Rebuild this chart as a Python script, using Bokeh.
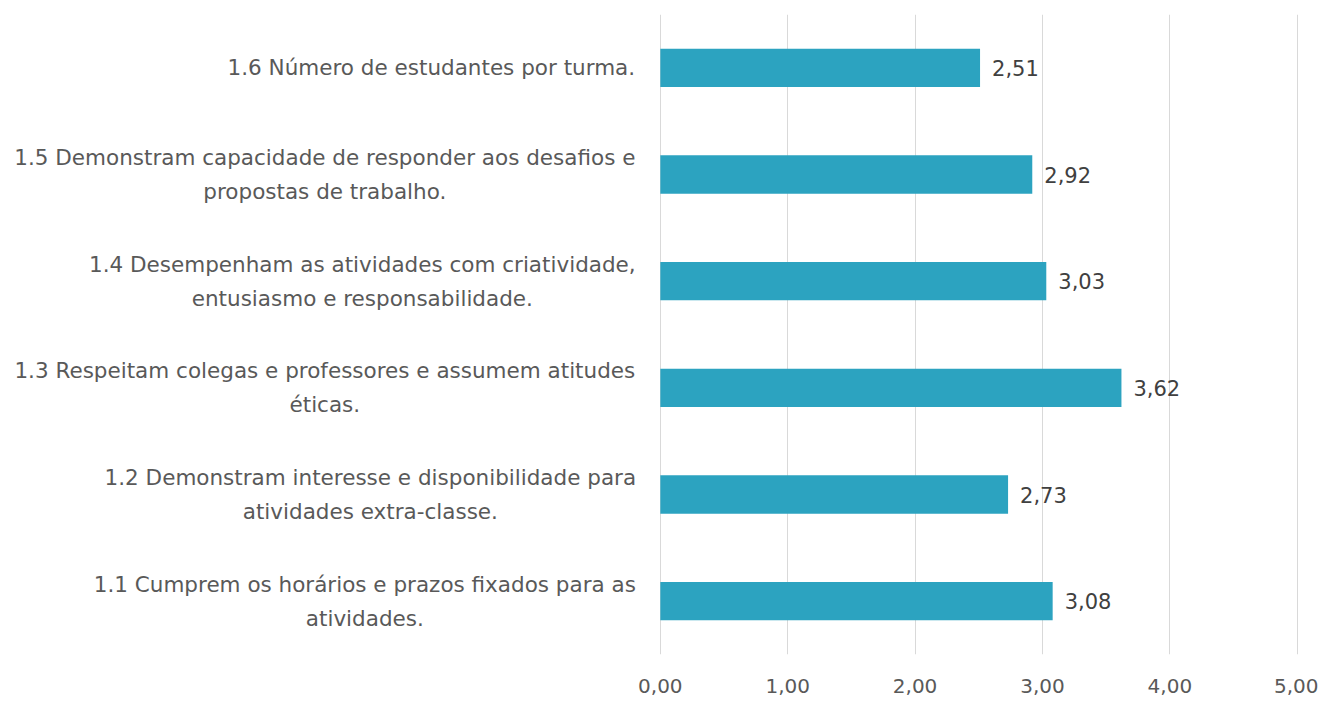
from bokeh.plotting import figure
from bokeh.models import FixedTicker, ColumnDataSource
from bokeh.core.properties import value
from bokeh.embed import file_html
from bokeh.resources import INLINE

categories = [
    "1.1 Cumprem os horários e prazos fixados para as\natividades.",
    "1.2 Demonstram interesse e disponibilidade para\natividades extra-classe.",
    "1.3 Respeitam colegas e professores e assumem atitudes\néticas.",
    "1.4 Desempenham as atividades com criatividade,\nentusiasmo e responsabilidade.",
    "1.5 Demonstram capacidade de responder aos desafios e\npropostas de trabalho.",
    "1.6 Número de estudantes por turma.",
]
values = [3.08, 2.73, 3.62, 3.03, 2.92, 2.51]
x_ticks = [0, 1, 2, 3, 4, 5]
x_tick_labels = ["0,00", "1,00", "2,00", "3,00", "4,00", "5,00"]

# layout: approximate rendered width (px) of each label block, used to centre lines
label_block_widths = [541, 530, 621, 546, 621, 408]
LABEL_GAP = 25  # px between label block and the value axis

FONT = "DejaVu Sans"
pos = list(range(len(categories)))
src = ColumnDataSource(dict(
    y=pos, v=values,
    lab=[f"{v:.2f}".replace(".", ",") for v in values],
))
cat_src = ColumnDataSource(dict(
    x=[0] * len(categories), y=pos, text=categories,
    off=[-(LABEL_GAP + w / 2) for w in label_block_widths],
))

# the frame extends left of zero to host the category labels
p = figure(frame_width=1298, frame_height=640, x_range=(-5.18, 5.01), y_range=(-0.5, 5.5),
           output_backend="svg", toolbar_location=None,
           min_border_left=0, min_border_right=20, min_border_top=14, min_border_bottom=46)
p.outline_line_color = None

p.hbar(y="y", right="v", left=0, height=0.36, source=src,
       fill_color="#2ca3c0", line_color=None)
p.text(x="v", y="y", text="lab", source=src, x_offset=12, text_baseline="middle",
       text_align="left", text_font_size="21px", text_color="#404040",
       text_font=value(FONT))
p.text(x="x", y="y", text="text", x_offset="off", source=cat_src,
       text_align="center", text_baseline="middle", text_font_size="21.5px",
       text_color="#595959", text_font=value(FONT), text_line_height=1.35)

p.xaxis.ticker = FixedTicker(ticks=x_ticks)
p.xaxis.major_label_overrides = {t: l for t, l in zip(x_ticks, x_tick_labels)}
p.xaxis.axis_line_color = None
p.xaxis.major_tick_line_color = None
p.xaxis.minor_tick_line_color = None
p.xaxis.major_label_standoff = 18
p.xaxis.major_label_text_font_size = "20px"
p.xaxis.major_label_text_color = "#595959"
p.xaxis.major_label_text_font = FONT

p.yaxis.visible = False

p.xgrid.ticker = FixedTicker(ticks=x_ticks)
p.xgrid.grid_line_color = "#d9d9d9"
p.ygrid.grid_line_color = None

open("out.html", "w").write(file_html(p, INLINE))
